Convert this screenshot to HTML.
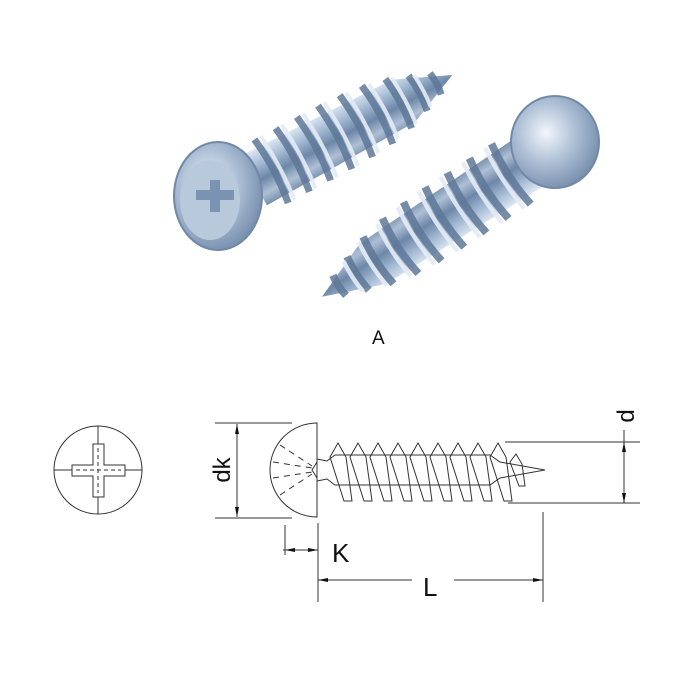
<!DOCTYPE html>
<html><head><meta charset="utf-8"><style>
html,body{margin:0;padding:0;background:#fff;width:700px;height:678px;overflow:hidden}
svg{display:block}
text{font-family:"Liberation Sans",sans-serif;fill:#111}
</style></head><body>
<svg width="700" height="678" viewBox="0 0 700 678" xmlns="http://www.w3.org/2000/svg">
<defs>
<linearGradient id="sh" x1="0" y1="0" x2="0" y2="1">
<stop offset="0" stop-color="#dfe9f4"/><stop offset="0.3" stop-color="#9fb6d0"/><stop offset="0.55" stop-color="#6d87a8"/><stop offset="0.8" stop-color="#aebfd4"/><stop offset="1" stop-color="#7890ae"/>
</linearGradient>
<radialGradient id="hd" cx="0.4" cy="0.4" r="0.7">
<stop offset="0" stop-color="#f2f6fb"/><stop offset="0.5" stop-color="#a9bcd3"/><stop offset="1" stop-color="#6c84a3"/>
</radialGradient>
<g id="screw">
<path d="M20,-28 L190,-24 L245,0 L190,24 L20,28 Z" fill="url(#sh)"/>
<g stroke="#5f7898" stroke-width="7" fill="none" opacity="0.85">
<path d="M40,-36 q5,36 0,72"/><path d="M64,-36 q5,36 0,72"/><path d="M88,-36 q5,36 0,72"/><path d="M112,-36 q5,36 0,72"/><path d="M136,-35 q5,35 0,70"/><path d="M160,-33 q5,33 0,66"/><path d="M184,-28 q4,28 0,56"/><path d="M206,-20 q3,20 0,40"/><path d="M226,-12 q2,12 0,24"/>
</g>
<g stroke="#e4ecf6" stroke-width="4" fill="none" opacity="0.9">
<path d="M47,-36 q4,36 0,72"/><path d="M71,-36 q4,36 0,72"/><path d="M95,-36 q4,36 0,72"/><path d="M119,-36 q4,36 0,72"/><path d="M143,-34 q4,34 0,68"/><path d="M167,-31 q4,31 0,62"/><path d="M190,-26 q3,26 0,52"/><path d="M211,-18 q2,18 0,36"/>
</g>
</g>
</defs>
<g transform="translate(236,190) rotate(-28)"><use href="#screw"/></g>
<ellipse cx="218" cy="196" rx="44" ry="54" fill="url(#hd)" stroke="#7189a8" stroke-width="2"/>
<ellipse cx="210" cy="200" rx="30" ry="40" fill="#b9c9dc"/>
<path d="M196,190 h14 v-10 h10 v10 h14 v10 h-14 v12 h-10 v-12 h-14 z" fill="#7b93b2"/>
<g transform="translate(548,150) rotate(147) scale(1.1,1)"><use href="#screw"/></g>
<ellipse cx="555" cy="142" rx="44" ry="46" fill="url(#hd)" stroke="#7189a8" stroke-width="2"/>
<text x="372" y="344" font-size="19">A</text>

<g stroke="#333" stroke-width="1" fill="none">
<circle cx="98" cy="470" r="44"/>
<line x1="54" y1="470" x2="142" y2="470"/><line x1="98" y1="426" x2="98" y2="514"/>
<path d="M93,444 h11 v21 h21 v11 h-21 v21 h-11 v-21 h-21 v-11 h21 z" fill="#fff"/>
<line x1="98" y1="448" x2="98" y2="493" stroke-dasharray="4 3"/><line x1="76" y1="470" x2="121" y2="470" stroke-dasharray="4 3"/>
<path d="M317,423 A47,47 0 0 0 317,517 Z"/>
<line x1="215" y1="423" x2="292" y2="423"/><line x1="215" y1="518" x2="292" y2="518"/>
<line x1="237" y1="424" x2="237" y2="517"/>
<g stroke-dasharray="6 5"><line x1="280" y1="445" x2="312" y2="466"/><line x1="273" y1="462" x2="312" y2="468"/><line x1="273" y1="478" x2="312" y2="472"/><line x1="280" y1="495" x2="312" y2="474"/></g>
<path d="M317,462 l-5,8 l5,8"/>
<path d="M317,459 L327,461 L335,455 L490,455 L500,462 L545,470 L500,478 L490,485 L335,485 L327,479 L317,481"/>
<g>
<path d="M330,457 l8,-14 l8,14 l6,44 l-8,0 z"/>
<path d="M350,457 l8,-14 l8,14 l6,44 l-8,0 z"/>
<path d="M370,457 l8,-14 l8,14 l6,44 l-8,0 z"/>
<path d="M390,457 l8,-14 l8,14 l6,44 l-8,0 z"/>
<path d="M410,457 l8,-14 l8,14 l6,44 l-8,0 z"/>
<path d="M430,457 l8,-14 l8,14 l6,44 l-8,0 z"/>
<path d="M450,457 l8,-14 l8,14 l6,44 l-8,0 z"/>
<path d="M470,457 l8,-14 l8,14 l6,44 l-8,0 z"/>
<path d="M490,457 l8,-14 l8,14 l6,44 l-8,0 z"/>
<path d="M510,462 l6,-8 l6,10 l3,22 l-6,0 z"/>
</g>
<line x1="505" y1="442" x2="640" y2="442"/><line x1="508" y1="503" x2="640" y2="503"/>
<line x1="624" y1="430" x2="624" y2="503"/>
<line x1="285" y1="525" x2="285" y2="555"/><line x1="318" y1="523" x2="318" y2="602"/>
<line x1="283" y1="550" x2="318" y2="550"/>
<line x1="543" y1="512" x2="543" y2="602"/>
<line x1="318" y1="580" x2="412" y2="580"/><line x1="454" y1="580" x2="543" y2="580"/>
</g>
<g fill="#111">
<path d="M237,424 l-2,10 h4 z"/><path d="M237,517 l-2,-10 h4 z"/>
<path d="M624,442 l-2,10 h4 z"/><path d="M624,503 l-2,-10 h4 z"/>
<path d="M318,550 l-10,-2 v4 z"/><path d="M285,550 l10,-2 v4 z"/>
<path d="M318,580 l10,-2 v4 z"/><path d="M543,580 l-10,-2 v4 z"/>
</g>
<text transform="translate(230,470) rotate(-90)" font-size="24" text-anchor="middle">dk</text>
<text transform="translate(634,416) rotate(-90)" font-size="24" text-anchor="middle">d</text>
<text x="332" y="562" font-size="26">K</text>
<text x="423" y="596" font-size="26">L</text>
</svg>
</body></html>
